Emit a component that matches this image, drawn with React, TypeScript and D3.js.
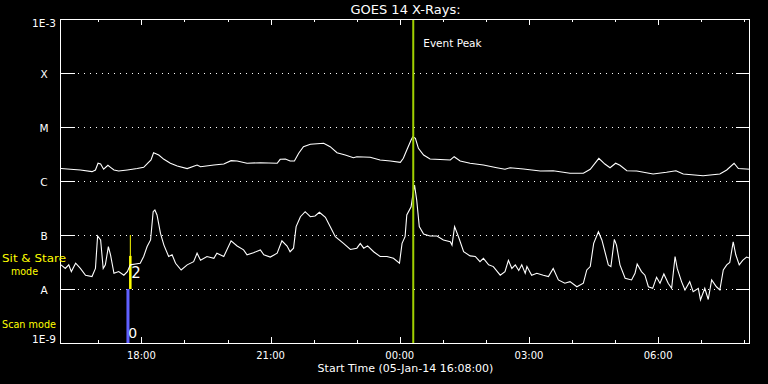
import React from "react";
import * as d3 from "d3";

// GOES 14 X-ray flux, 05-Jan-14 16:08 UT + 16 h
const startTime = Date.UTC(2014, 0, 5, 16, 8);
const spanHours = 16;
const chartTitle = "GOES 14 X-Rays:";
const xTitle = "Start Time (05-Jan-14 16:08:00)";

const levelFlux = [1e-9, 1e-8, 1e-7, 1e-6, 1e-5, 1e-4, 1e-3];
const levelLabels = ["1E-9", "A", "B", "C", "M", "X", "1E-3"];

// 1-8 A channel (hours after start, W/m^2)
const longHours = [
  0, 0.22, 0.45, 0.72, 0.8, 0.86, 0.92, 0.99, 1.09, 1.15, 1.23, 1.34, 1.54, 1.77, 1.92,
  2.01, 2.09, 2.15, 2.27, 2.39, 2.54, 2.7, 2.93, 3.16, 3.24, 3.55, 3.78, 3.95, 4.09, 4.32,
  4.63, 5.02, 5.09, 5.21, 5.32, 5.42, 5.52, 5.63, 5.79, 6.1, 6.25, 6.41, 6.6, 6.79, 6.87,
  7.18, 7.41, 7.65, 7.88, 7.95, 8.03, 8.13, 8.17, 8.23, 8.3, 8.42, 8.57, 9.04, 9.13, 9.27,
  9.5, 9.81, 10.12, 10.31, 10.43, 10.74, 11.13, 11.43, 11.82, 12.13, 12.29, 12.49, 12.63,
  12.75, 12.88, 12.98, 13.14, 13.37, 13.75, 14.06, 14.28, 14.45, 14.91, 15.3, 15.46, 15.63,
  15.73, 16.0,
];
const longFlux = [
  1.7e-6, 1.65e-6, 1.6e-6, 1.49e-6, 1.6e-6, 2.13e-6, 2.06e-6, 1.65e-6, 1.95e-6, 1.79e-6,
  1.6e-6, 1.53e-6, 1.6e-6, 1.7e-6, 1.79e-6, 2.13e-6, 2.45e-6, 3.34e-6, 3.03e-6, 2.52e-6,
  2.13e-6, 1.9e-6, 1.7e-6, 1.98e-6, 1.84e-6, 1.98e-6, 2.06e-6, 2.38e-6, 2.35e-6, 2.13e-6,
  2.18e-6, 2.13e-6, 2.52e-6, 2.55e-6, 2.35e-6, 2.35e-6, 3.26e-6, 4.32e-6, 4.78e-6, 4.99e-6,
  4.32e-6, 3.34e-6, 3.03e-6, 2.7e-6, 2.82e-6, 2.75e-6, 2.45e-6, 2.35e-6, 2.22e-6, 2.63e-6,
  3.75e-6, 5.74e-6, 6.61e-6, 6.18e-6, 4.03e-6, 3.03e-6, 2.55e-6, 2.45e-6, 2.82e-6, 2.35e-6,
  2.13e-6, 1.98e-6, 1.76e-6, 1.65e-6, 1.76e-6, 1.67e-6, 1.53e-6, 1.55e-6, 1.39e-6, 1.39e-6,
  1.65e-6, 2.63e-6, 2.06e-6, 1.76e-6, 2.13e-6, 1.95e-6, 1.55e-6, 1.53e-6, 1.35e-6, 1.45e-6,
  1.55e-6, 1.35e-6, 1.25e-6, 1.35e-6, 1.6e-6, 2.13e-6, 1.7e-6, 1.65e-6,
];

// 0.5-4 A channel
const shortHours = [
  0, 0.1, 0.18, 0.24, 0.34, 0.45, 0.57, 0.72, 0.8, 0.85, 0.92, 0.98, 1.03, 1.1, 1.15, 1.23,
  1.34, 1.46, 1.54, 1.61, 1.73, 1.84, 1.92, 2.0, 2.08, 2.14, 2.18, 2.23, 2.31, 2.39, 2.5,
  2.58, 2.66, 2.79, 2.93, 3.08, 3.16, 3.24, 3.39, 3.55, 3.62, 3.78, 3.95, 4.09, 4.24, 4.32,
  4.47, 4.63, 4.71, 4.86, 5.02, 5.13, 5.25, 5.32, 5.4, 5.46, 5.56, 5.67, 5.79, 5.9, 6.0,
  6.14, 6.25, 6.37, 6.56, 6.72, 6.87, 6.95, 7.03, 7.12, 7.26, 7.41, 7.57, 7.72, 7.86, 7.92,
  7.99, 8.03, 8.13, 8.17, 8.21, 8.26, 8.32, 8.42, 8.57, 8.73, 8.88, 9.04, 9.08, 9.14, 9.23,
  9.35, 9.5, 9.62, 9.73, 9.81, 9.93, 10.04, 10.2, 10.31, 10.39, 10.47, 10.55, 10.63, 10.7,
  10.78, 10.82, 10.93, 11.05, 11.2, 11.32, 11.43, 11.55, 11.7, 11.82, 11.98, 12.13, 12.21,
  12.29, 12.37, 12.48, 12.56, 12.71, 12.77, 12.85, 12.9, 12.98, 13.1, 13.25, 13.33, 13.38,
  13.48, 13.56, 13.64, 13.74, 13.83, 13.91, 14.0, 14.1, 14.18, 14.26, 14.31, 14.41, 14.49,
  14.6, 14.68, 14.8, 14.85, 14.95, 15.03, 15.11, 15.22, 15.3, 15.38, 15.46, 15.53, 15.61,
  15.67, 15.75, 15.83, 15.92, 16.0,
];
const shortFlux = [
  2.8e-8, 2.4e-8, 2.8e-8, 2.1e-8, 3.0e-8, 2.4e-8, 1.8e-8, 1.7e-8, 2.4e-8, 9.6e-8, 8.1e-8,
  2.4e-8, 2.8e-8, 6.1e-8, 4.3e-8, 1.95e-8, 2.1e-8, 1.8e-8, 2.1e-8, 2.8e-8, 2.9e-8, 3.0e-8,
  4.0e-8, 6.1e-8, 8.1e-8, 2.7e-7, 2.9e-7, 2.35e-7, 1.07e-7, 6.5e-8, 4.0e-8, 4.3e-8, 3.0e-8,
  2.25e-8, 2.8e-8, 3.2e-8, 4.6e-8, 3.4e-8, 4.0e-8, 3.7e-8, 4.6e-8, 4.0e-8, 7.8e-8, 6.25e-8,
  5.3e-8, 4.3e-8, 4.7e-8, 5.3e-8, 4.3e-8, 3.9e-8, 4.6e-8, 7.8e-8, 6.25e-8, 4.9e-8, 5.7e-8,
  1.43e-7, 2.18e-7, 2.7e-7, 2.18e-7, 2.25e-7, 2.63e-7, 2.13e-7, 1.43e-7, 9.3e-8, 7.0e-8,
  5.4e-8, 5.7e-8, 7.0e-8, 5.7e-8, 6.3e-8, 4.9e-8, 4.0e-8, 4.0e-8, 3.7e-8, 3.0e-8, 7.0e-8,
  9.3e-8, 2.35e-7, 3.34e-7, 5.5e-7, 8.4e-7, 4.45e-7, 1.43e-7, 1.04e-7, 9.6e-8, 9.6e-8,
  8.1e-8, 7.5e-8, 6.5e-8, 1.43e-7, 9.3e-8, 4.9e-8, 4.1e-8, 4.0e-8, 3.2e-8, 3.7e-8, 2.8e-8,
  2.6e-8, 1.8e-8, 2.1e-8, 3.4e-8, 2.4e-8, 2.8e-8, 2.2e-8, 2.8e-8, 1.95e-8, 2.6e-8, 1.8e-8,
  1.95e-8, 1.8e-8, 1.7e-8, 2.4e-8, 1.47e-8, 1.28e-8, 1.37e-8, 1.1e-8, 1.28e-8, 2.25e-8,
  2.6e-8, 7.0e-8, 1.15e-7, 8.1e-8, 2.8e-8, 2.6e-8, 8.3e-8, 6.5e-8, 2.8e-8, 1.58e-8, 1.47e-8,
  1.95e-8, 2.9e-8, 2.1e-8, 1.8e-8, 1.1e-8, 1.03e-8, 1.65e-8, 1.28e-8, 1.9e-8, 1.28e-8,
  1.03e-8, 4.0e-8, 2.4e-8, 1.37e-8, 9.6e-9, 1.37e-8, 8.9e-9, 1.03e-8, 6.3e-9, 1.03e-8,
  6.4e-9, 1.47e-8, 1.1e-8, 9.6e-9, 2.25e-8, 2.8e-8, 3.1e-8, 7.5e-8, 4.3e-8, 2.8e-8, 3.4e-8,
  3.9e-8, 3.7e-8,
];

// event / instrument mode markers
const eventPeakHour = 8.18;
const scanStartHour = 1.52;
const scanEndHour = 1.59;
const stareHour = 1.61;
const stareBarTop = 4.1e-8;
const scanCount = "0";
const stareCount = "2";

const toDate = (h: number) => new Date(startTime + h * 3600e3);

const W = 768;
const H = 384;
const left = 61;
const right = 750;
const top = 19;
const bottom = 343;
const font = "DejaVu Sans, sans-serif";

export default function App() {
  const x = d3.scaleUtc().domain([toDate(0), toDate(spanHours)]).range([left, right]);
  const y = d3.scaleLog().domain([1e-9, 1e-3]).range([bottom, top]);
  const fmt = d3.utcFormat("%H:%M");
  const hourTicks = x.ticks(d3.utcHour.every(1)!);

  const line = d3
    .line<[number, number]>()
    .x((d) => x(toDate(d[0])))
    .y((d) => y(d[1]));

  const longPath = line(d3.zip(longHours, longFlux) as [number, number][]) || "";
  const shortPath = line(d3.zip(shortHours, shortFlux) as [number, number][]) || "";
  const xe = x(toDate(eventPeakHour));
  const xs = x(toDate(stareHour));

  return (
    <svg
      width={W}
      height={H}
      style={{ position: "absolute", left: 0, top: 0, background: "#000" }}
      fontFamily={font}
    >
      <rect width={W} height={H} fill="#000" />
      <defs>
        <clipPath id="plotclip">
          <rect x={left} y={top} width={right - left} height={bottom - top} />
        </clipPath>
      </defs>

      {/* class levels: short solid ticks, dotted lines */}
      <g stroke="#fff" shapeRendering="crispEdges">
        {levelFlux.slice(1, -1).map((f) => (
          <g key={f}>
            <line x1={left} x2={left + 14} y1={y(f) + 0.5} y2={y(f) + 0.5} />
            <line x1={right - 14} x2={right} y1={y(f) + 0.5} y2={y(f) + 0.5} />
            <line
              x1={left + 17}
              x2={right - 15}
              y1={y(f) + 0.5}
              y2={y(f) + 0.5}
              strokeDasharray="1,5"
            />
          </g>
        ))}
      </g>

      {/* mode markers */}
      <rect
        x={x(toDate(scanStartHour))}
        width={x(toDate(scanEndHour)) - x(toDate(scanStartHour))}
        y={y(1e-8)}
        height={bottom - y(1e-8)}
        fill="#6060ff"
      />
      <line x1={xs} x2={xs} y1={y(1e-7)} y2={y(1e-8)} stroke="#ffff00" strokeWidth={1} />
      <line x1={xs} x2={xs} y1={y(stareBarTop)} y2={y(1e-8)} stroke="#ffff00" strokeWidth={2.5} />

      {/* flux curves */}
      <g clipPath="url(#plotclip)" fill="none" stroke="#fff" strokeWidth={1.1}>
        <path d={longPath} />
        <path d={shortPath} />
      </g>

      {/* event peak */}
      <line x1={xe} x2={xe} y1={top} y2={bottom} stroke="#a0d000" strokeWidth={2} />
      <text x={xe + 10} y={47} fill="#fff" fontSize={10.5}>
        Event Peak
      </text>

      {/* frame */}
      <rect
        x={left - 0.5}
        y={top + 0.5}
        width={right - left}
        height={bottom - top}
        fill="none"
        stroke="#fff"
        shapeRendering="crispEdges"
      />

      {/* hour ticks top and bottom */}
      <g stroke="#fff" shapeRendering="crispEdges">
        {hourTicks.map((t) => {
          const len = t.getUTCHours() % 3 === 0 ? 6 : 3;
          const xx = Math.round(x(t)) + 0.5;
          return (
            <g key={+t}>
              <line x1={xx} x2={xx} y1={top} y2={top + len} />
              <line x1={xx} x2={xx} y1={bottom} y2={bottom - len} />
            </g>
          );
        })}
      </g>
      <g fill="#fff" fontSize={10} textAnchor="middle">
        {hourTicks
          .filter((t) => t.getUTCHours() % 3 === 0)
          .map((t) => (
            <text key={+t} x={x(t)} y={359}>
              {fmt(t)}
            </text>
          ))}
      </g>

      {/* y labels */}
      <g fill="#fff" fontSize={10.5} textAnchor="middle">
        {levelFlux.map((f, i) => (
          <text
            key={f}
            x={44}
            y={y(f) + (i === levelFlux.length - 1 ? 8 : i === 0 ? 0 : 4.5)}
          >
            {levelLabels[i]}
          </text>
        ))}
      </g>

      <text x={(left + right) / 2} y={14} fill="#fff" fontSize={13} textAnchor="middle">
        {chartTitle}
      </text>
      <text x={(left + right) / 2} y={372} fill="#fff" fontSize={11} textAnchor="middle">
        {xTitle}
      </text>

      {/* mode labels */}
      <g fill="#ffff00" fontSize={10.5}>
        <text x={2} y={262} textLength={64} lengthAdjust="spacingAndGlyphs">
          Sit &amp; Stare
        </text>
        <text x={11} y={275} textLength={27} lengthAdjust="spacingAndGlyphs">
          mode
        </text>
        <text x={2} y={328} textLength={54} lengthAdjust="spacingAndGlyphs">
          Scan mode
        </text>
      </g>
      <text x={xs + 1} y={278} fill="#fff" fontSize={15}>
        {stareCount}
      </text>
      <text x={xs - 2} y={338} fill="#fff" fontSize={14}>
        {scanCount}
      </text>
    </svg>
  );
}
